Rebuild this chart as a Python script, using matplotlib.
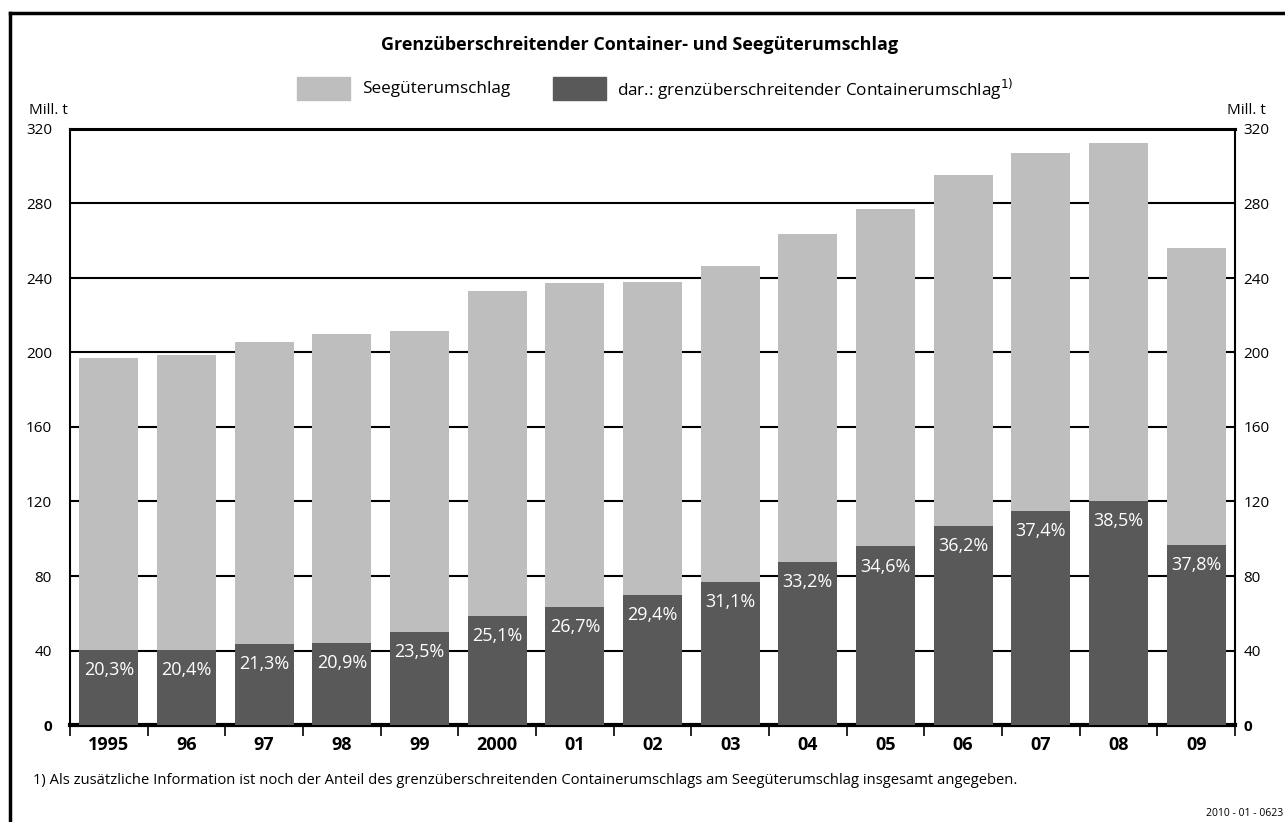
import numpy as np
import matplotlib.pyplot as plt
from matplotlib.lines import Line2D
from matplotlib.patches import Rectangle

years = ['1995', '96', '97', '98', '99', '2000', '01', '02', '03', '04', '05', '06', '07', '08', '09']
seegueter = [197.3, 198.4, 205.4, 210.2, 211.8, 233.2, 237.5, 238.0, 246.6, 263.7, 277.1, 295.3, 307.1, 312.5, 256.2]
container = [40.1, 40.5, 43.7, 43.9, 49.8, 58.5, 63.4, 70.0, 76.7, 87.5, 95.9, 106.9, 114.9, 120.3, 96.8]
anteil = ['20,3%', '20,4%', '21,3%', '20,9%', '23,5%', '25,1%', '26,7%', '29,4%', '31,1%',
          '33,2%', '34,6%', '36,2%', '37,4%', '38,5%', '37,8%']
yticks = [0, 40, 80, 120, 160, 200, 240, 280, 320]

light = '#bebebe'
dark = '#595959'

plt.rcParams['font.family'] = ['Open Sans', 'DejaVu Sans']

fig = plt.figure(figsize=(12.85, 8.22), dpi=100)
ax = fig.add_axes([70 / 1285, 1 - 725 / 822, 1165 / 1285, 596 / 822])

x = np.arange(len(years))
ax.bar(x, seegueter, width=0.76, color=light, zorder=2)
ax.bar(x, container, width=0.76, color=dark, zorder=3)

# Anteil in percent, written inside the dark bars
for xi, c, lab in zip(x, container, anteil):
    ax.annotate(lab, (xi, c), xytext=(0, -14.5), textcoords='offset points',
                ha='center', va='center', color='white', fontsize=13, zorder=4)

ax.set_xlim(-0.5, len(years) - 0.5)
ax.set_ylim(0, 320)
for t in yticks[1:]:
    ax.axhline(t, color='black', lw=1.5, zorder=1)

# x ticks at the category boundaries, labels centered
ax.set_xticks(np.arange(-0.5, len(years)))
ax.set_xticklabels([])
ax.tick_params(axis='x', which='major', direction='out', length=8, width=1.2)
ax.set_xticks(x, minor=True)
ax.set_xticklabels(years, minor=True, fontsize=13, fontweight='bold')
ax.tick_params(axis='x', which='minor', length=0, pad=8)

ax.set_yticks(yticks)
ax.set_yticklabels([str(t) for t in yticks], fontsize=11)
ax.tick_params(axis='y', length=0, pad=13)
ax.get_yticklabels()[0].set_fontweight('bold')
ax2 = ax.secondary_yaxis('right')
ax2.set_yticks(yticks)
ax2.set_yticklabels([str(t) for t in yticks], fontsize=11)
ax2.tick_params(axis='y', length=0, pad=6)
ax2.get_yticklabels()[0].set_fontweight('bold')
ax2.spines['right'].set_visible(False)

ax.spines['bottom'].set_linewidth(3)
ax.spines['top'].set_linewidth(2.2)
ax.spines['left'].set_linewidth(1.5)
ax.spines['right'].set_linewidth(1.5)

fig.text(29 / 1285, 1 - 110 / 822, 'Mill. t', fontsize=11, va='center', ha='left')
fig.text(1266 / 1285, 1 - 110 / 822, 'Mill. t', fontsize=11, va='center', ha='right')

fig.text(640 / 1285, 1 - 45 / 822, 'Grenzüberschreitender Container- und Seegüterumschlag',
         fontsize=13, fontweight='bold', ha='center', va='center')

# legend
fig.patches.append(Rectangle((297 / 1285, 1 - 100 / 822), 53 / 1285, 23 / 822,
                             transform=fig.transFigure, color=light))
fig.text(362 / 1285, 1 - 89 / 822, 'Seegüterumschlag', fontsize=12.3, va='center')
fig.patches.append(Rectangle((553 / 1285, 1 - 100 / 822), 53 / 1285, 23 / 822,
                             transform=fig.transFigure, color=dark))
fig.text(617 / 1285, 1 - 89 / 822, 'dar.: grenzüberschreitender Containerumschlag$^{1)}$',
         fontsize=12.3, va='center')

fig.text(33 / 1285, 1 - 780 / 822,
         '1) Als zusätzliche Information ist noch der Anteil des grenzüberschreitenden '
         'Containerumschlags am Seegüterumschlag insgesamt angegeben.',
         fontsize=10.6, va='center')
fig.text(1283 / 1285, 1 - 813 / 822, '2010 - 01 - 0623', fontsize=7.5, va='center', ha='right')

# frame lines at left and top
fig.add_artist(Line2D([10 / 1285, 10 / 1285], [0, 1 - 13 / 822], transform=fig.transFigure,
                      color='black', lw=2.5))
fig.add_artist(Line2D([10 / 1285, 1], [1 - 13 / 822, 1 - 13 / 822], transform=fig.transFigure,
                      color='black', lw=2.5))

fig.savefig('out.png', dpi=100)
